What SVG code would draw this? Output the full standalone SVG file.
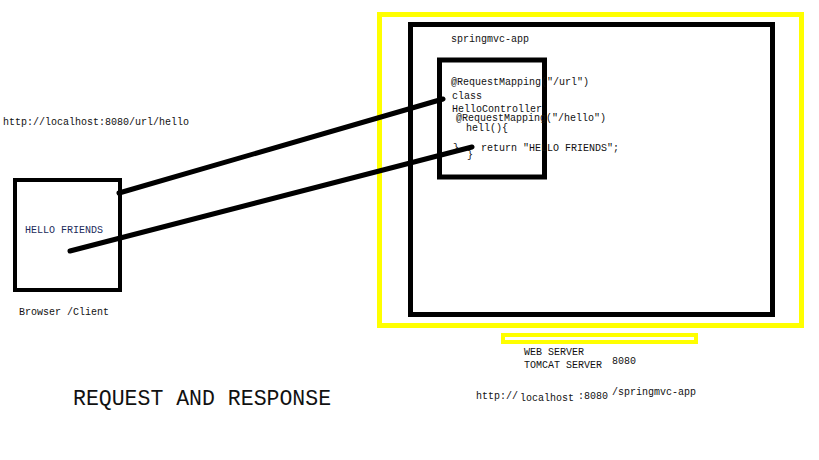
<svg xmlns="http://www.w3.org/2000/svg" width="819" height="460" viewBox="0 0 819 460">
<style>
.t{font-family:"Liberation Mono","DejaVu Sans Mono",monospace;font-size:10px;fill:#111}
.box{fill:none;stroke:#000;stroke-width:5}
.y{fill:none;stroke:#ffff00;stroke-width:5}
.c{stroke:#000;stroke-width:5;stroke-linecap:round;fill:none}
</style>
<rect width="819" height="460" fill="#fff"/>
<g id="server">
<rect class="y" x="379.5" y="14.5" width="422" height="311"/>
<rect class="y" x="503" y="335" width="193" height="7" style="stroke-width:4"/>
<text class="t" x="524" y="355">WEB SERVER</text>
<text class="t" x="524" y="368">TOMCAT SERVER</text>
<text class="t" x="612" y="364">8080</text>
<text class="t" x="476" y="399">http://</text>
<text class="t" x="520" y="401">localhost</text>
<text class="t" x="578" y="399">:8080</text>
<text class="t" x="612" y="395">/springmvc-app</text>
</g>
<g id="app">
<rect class="box" x="410.5" y="24.5" width="362" height="290"/>
<text class="t" x="451" y="42">springmvc-app</text>
</g>
<g id="controller">
<rect class="box" x="439.5" y="60" width="105" height="117"/>
<text class="t" x="451" y="85">@RequestMapping("/url")</text>
<text class="t" x="452" y="99">class</text>
<text class="t" x="452" y="112">HelloController</text>
<text class="t" x="456" y="121">@RequestMapping("/hello")</text>
<text class="t" x="466" y="131">hell(){</text>
<text class="t" x="453" y="151">}</text>
<text class="t" x="481" y="151">return "HELLO FRIENDS";</text>
<text class="t" x="467" y="158">}</text>
</g>
<g id="browser">
<rect class="box" x="15" y="180" width="105" height="110" style="stroke-width:4"/>
<text class="t" x="25" y="233" style="fill:#1a2a5a">HELLO FRIENDS</text>
<text class="t" x="19" y="315">Browser /Client</text>
</g>
<g id="url">
<text class="t" x="3" y="125">http://localhost:8080/url/hello</text>
</g>
<g id="title">
<text class="t" x="73" y="405" style="font-size:21.5px">REQUEST AND RESPONSE</text>
</g>
<g id="connectors">
<line class="c" x1="119" y1="193" x2="443" y2="99"/>
<line class="c" x1="70" y1="251" x2="472" y2="147"/>
</g>
</svg>
